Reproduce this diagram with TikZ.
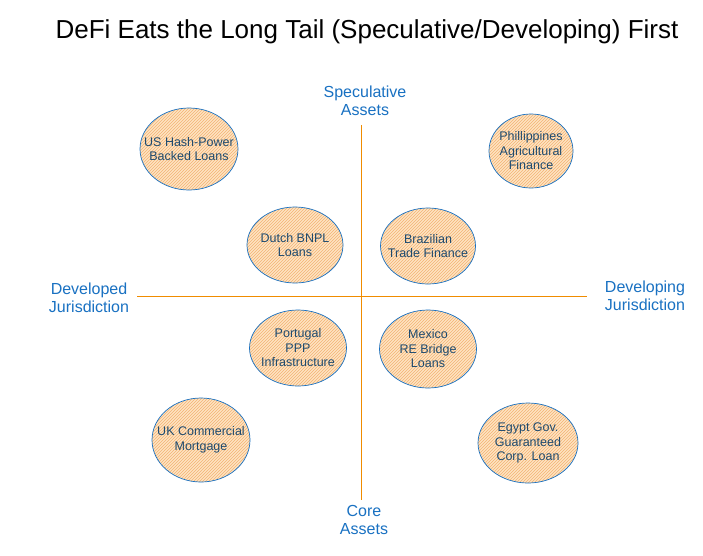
\documentclass[tikz,border=0pt]{standalone}
\usepackage{fontspec}
\setmainfont{Liberation Sans}
\usetikzlibrary{shapes.geometric,patterns}
\definecolor{axiscol}{HTML}{F08C00}
\definecolor{labcol}{HTML}{1971C2}
\definecolor{bubtext}{HTML}{1E4A6E}
\definecolor{bubfill}{HTML}{FFE3C2}
\definecolor{hatch}{HTML}{F2B373}
\tikzset{
  bubble/.style={ellipse, draw=labcol, line width=0.7pt, inner sep=0pt,
    preaction={fill=bubfill}, pattern=north east lines, pattern color=hatch},
  bubtxt/.style={text=bubtext, font=\fontsize{12.5}{14.5}\selectfont, align=center, inner sep=0pt},
  axlabel/.style={text=labcol, font=\fontsize{16}{18.5}\selectfont, align=center, inner sep=1pt},
  axisline/.style={draw=axiscol, line width=0.9pt}
}
\begin{document}
\begin{tikzpicture}[x=1pt,y=-1pt]
\useasboundingbox (0,0) rectangle (703,555);
\fill[white] (0,0) rectangle (703,555);
\node[font=\fontsize{26}{30}\selectfont] (title) at (367,32) {DeFi Eats the Long Tail (Speculative/Developing) First};
\node[axlabel] (spec) at (365,101) {Speculative\\Assets};
\node[axlabel] (core) at (364,520) {Core\\Assets};
\node[axlabel] (devd) at (89,298) {Developed\\Jurisdiction};
\node[axlabel] (devg) at (645,296) {Developing\\Jurisdiction};
\coordinate (vtop) at (361,125);
\coordinate (vbot) at (361,500);
\coordinate (hl) at (137,296);
\coordinate (hr) at (587,296);
\draw[axisline] (vtop) -- (vbot);
\draw[axisline] (hl) -- (hr);
\node[bubble, minimum width=98, minimum height=82] (us) at (189,149) {};
\node[bubtxt] (ust) at (us.center) {US Hash-Power\\Backed Loans};
\node[bubble, minimum width=84, minimum height=74] (ph) at (531,151) {};
\node[bubtxt] (pht) at (ph.center) {Phillippines\\Agricultural\\Finance};
\node[bubble, minimum width=96, minimum height=76] (nl) at (295,245) {};
\node[bubtxt] (nlt) at (nl.center) {Dutch BNPL\\Loans};
\node[bubble, minimum width=95, minimum height=76] (br) at (428,246) {};
\node[bubtxt] (brt) at (br.center) {Brazilian\\Trade Finance};
\node[bubble, minimum width=97, minimum height=76] (pt) at (298,348) {};
\node[bubtxt] (ptt) at (pt.center) {Portugal\\PPP\\Infrastructure};
\node[bubble, minimum width=97, minimum height=78] (mx) at (428,349) {};
\node[bubtxt] (mxt) at (mx.center) {Mexico\\RE Bridge\\Loans};
\node[bubble, minimum width=98, minimum height=84] (uk) at (201,440) {};
\node[bubtxt] (ukt) at (uk.center) {UK Commercial\\Mortgage};
\node[bubble, minimum width=100, minimum height=80] (eg) at (528,443) {};
\node[bubtxt] (egt) at (eg.center) {Egypt Gov.\\Guaranteed\\Corp. Loan};
\end{tikzpicture}
\end{document}
